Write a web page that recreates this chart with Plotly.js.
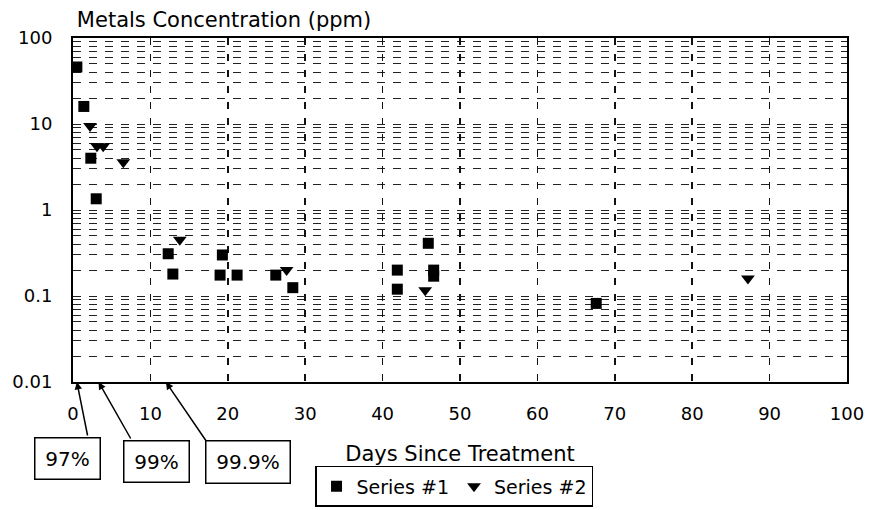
<!DOCTYPE html>
<html>
<head>
<meta charset="utf-8">
<script src="https://cdn.plot.ly/plotly-3.0.1.min.js"></script>
<style>html,body{margin:0;padding:0;background:#fff;}#chart{width:869px;height:510px;}</style>
</head>
<body>
<div id="chart"></div>
<script>
// ---- Data ----
var series1Days = [0.5, 1.4, 2.3, 3.0, 12.3, 12.9, 19.3, 19.0, 21.2, 26.2, 28.4, 41.9, 41.9, 45.9, 46.6, 46.6, 67.6];
var series1Ppm  = [46, 16, 4.0, 1.35, 0.31, 0.18, 0.30, 0.175, 0.175, 0.175, 0.125, 0.20, 0.12, 0.41, 0.20, 0.17, 0.082];
var series2Days = [2.2, 3.1, 3.9, 6.5, 13.8, 27.6, 45.5, 87.2];
var series2Ppm  = [9.5, 5.5, 5.5, 3.6, 0.45, 0.20, 0.117, 0.16];
var seriesNames = ['Series #1', 'Series #2'];

var xTickVals  = [0, 10, 20, 30, 40, 50, 60, 70, 80, 90, 100];
var xTickText  = ['0', '10', '20', '30', '40', '50', '60', '70', '80', '90', '100'];
var yTickVals  = [0.01, 0.1, 1, 10, 100];
var yTickText  = ['0.01', '0.1', '1', '10', '100'];

var reductionDays   = [0.5, 3.3, 12.0];
var reductionLabels = ['97%', '99%', '99.9%'];

// ---- minor log grid positions (2..9 in each decade) ----
var yMinorVals = [];
for (var d = 0; d < yTickVals.length - 1; d++) {
  for (var m = 2; m <= 9; m++) yMinorVals.push(yTickVals[d] * m);
}

var FONT = 'DejaVu Sans, Arial, sans-serif';

var traces = [
  {
    x: series1Days, y: series1Ppm, name: seriesNames[0],
    type: 'scatter', mode: 'markers', cliponaxis: false,
    marker: {symbol: 'square', size: 11, color: '#000'}
  },
  {
    x: series2Days, y: series2Ppm, name: seriesNames[1],
    type: 'scatter', mode: 'markers', cliponaxis: false,
    marker: {symbol: 'triangle-down', size: 12, color: '#000'}
  }
];

// arrow offsets (pixels) and box placement (paper coords) — styling only
var arrowOffsets = [[11, 55], [33, 58], [41, 60]];
var boxPos = [[-0.0065, -0.221, 64, 40], [0.1085, -0.230, 64, 40], [0.2255, -0.234, 83, 41]];

var annotations = [];
for (var i = 0; i < reductionDays.length; i++) {
  annotations.push({
    x: reductionDays[i], y: Math.log10(yTickVals[0]), xref: 'x', yref: 'y',
    text: '', showarrow: true, arrowhead: 2, arrowsize: 1, arrowwidth: 1.5,
    arrowcolor: '#000', ax: arrowOffsets[i][0], ay: arrowOffsets[i][1], standoff: 0
  });
  annotations.push({
    x: boxPos[i][0], y: boxPos[i][1], xref: 'paper', yref: 'paper',
    xanchor: 'center', yanchor: 'middle', showarrow: false,
    text: reductionLabels[i], width: boxPos[i][2], height: boxPos[i][3],
    align: 'center', valign: 'middle',
    bordercolor: '#000', borderwidth: 1.5, borderpad: 0, bgcolor: '#fff',
    font: {family: FONT, size: 20, color: '#000'}
  });
}

var layout = {
  width: 869, height: 510,
  margin: {l: 73, r: 22, t: 38, b: 128, autoexpand: false},
  paper_bgcolor: '#fff', plot_bgcolor: '#fff',
  font: {family: FONT, color: '#000'},
  title: {
    text: 'Metals Concentration (ppm)',
    font: {family: FONT, size: 21, color: '#000'},
    xref: 'paper', x: 0.005, xanchor: 'left',
    yref: 'container', y: 0.961, yanchor: 'middle'
  },
  xaxis: {
    range: [0, 100], tickmode: 'array', tickvals: xTickVals, ticktext: xTickText,
    showline: true, linecolor: '#000', linewidth: 2, mirror: true,
    showgrid: true, gridcolor: '#111', gridwidth: 1.5, griddash: '7px,9px',
    zeroline: false, ticks: '', ticklabelstandoff: 14, automargin: false,
    tickfont: {family: FONT, size: 18, color: '#000'},
    title: {text: 'Days Since Treatment', font: {family: FONT, size: 21, color: '#000'}, standoff: 24}
  },
  yaxis: {
    type: 'log', range: [-2, 2], tickmode: 'array', tickvals: yTickVals, ticktext: yTickText,
    showline: true, linecolor: '#000', linewidth: 2, mirror: true,
    showgrid: true, gridcolor: '#222', gridwidth: 1, griddash: '8px,8px',
    zeroline: false, ticks: '', ticklabelstandoff: 15, automargin: false,
    tickfont: {family: FONT, size: 18, color: '#000'},
    minor: {tickmode: 'array', tickvals: yMinorVals, showgrid: true, gridcolor: '#222', gridwidth: 1, griddash: '8px,8px', ticks: ''}
  },
  showlegend: true,
  legend: {
    orientation: 'h', x: 0.3127, y: -0.363, xanchor: 'left', yanchor: 'bottom',
    xref: 'paper', yref: 'paper',
    bordercolor: '#000', borderwidth: 1.5, bgcolor: '#fff',
    font: {family: FONT, size: 19, color: '#000'},
    itemsizing: 'trace'
  },
  annotations: annotations
};

Plotly.newPlot('chart', traces, layout, {displayModeBar: false, staticPlot: true});
</script>
</body>
</html>
